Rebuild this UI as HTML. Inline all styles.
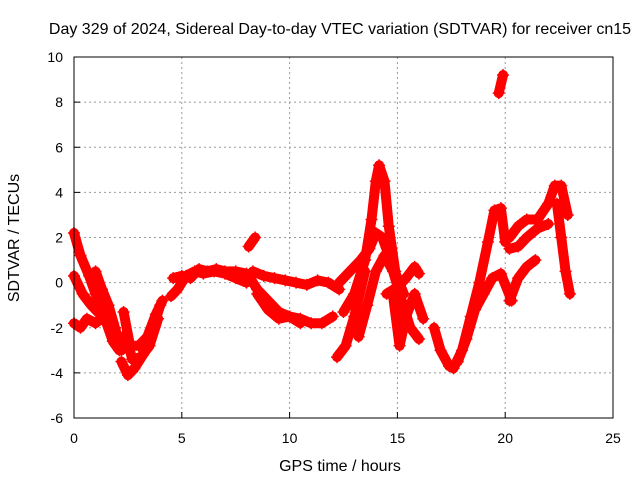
<!DOCTYPE html>
<html><head><meta charset="utf-8"><style>
body{margin:0;background:#fff}
text{font-family:"Liberation Sans",sans-serif;fill:#000}
</style></head><body>
<svg id="chart" width="640" height="480">
<text x="340" y="34" font-size="16" text-anchor="middle">Day 329 of 2024, Sidereal Day-to-day VTEC variation (SDTVAR) for receiver cn15</text>
<text x="340" y="471" font-size="16" text-anchor="middle">GPS time / hours</text>
<text transform="translate(19,238) rotate(-90)" font-size="16" text-anchor="middle">SDTVAR / TECUs</text>
<g id="grid"></g><g id="marks"></g>
<rect x="74" y="57" width="539" height="361" fill="none" stroke="#000"/>
</svg>
<script>
const xTicks=[0,5,10,15,20,25];
const yTicks=[-6,-4,-2,0,2,4,6,8,10];
const tracks=[
 {t:[0,0.3,0.7,1.0,1.4,1.8,2.1],v:[2.2,1.2,0.3,-0.5,-1.5,-2.6,-3.0]},
 {t:[0,0.4,0.8,1.2,1.6,2.0,2.3],v:[0.3,-0.5,-1.0,-1.4,-1.9,-2.4,-2.7]},
 {t:[0,0.3,0.6,1.0,1.4],v:[-1.8,-2.0,-1.6,-1.8,-1.5]},
 {t:[1.0,1.3,1.6,1.9,2.2],v:[0.5,-0.3,-1.0,-2.0,-3.0]},
 {t:[2.2,2.5,2.8,3.2,3.6,4.0],v:[-3.5,-4.1,-3.8,-3.2,-2.2,-1.0]},
 {t:[2.3,2.6,3.0,3.4,3.8,4.1],v:[-1.3,-2.8,-2.8,-2.4,-1.4,-0.8]},
 {t:[2.4,2.7,3.1,3.5,3.9],v:[-2.3,-3.4,-3.3,-2.8,-1.6]},
 {t:[4.5,4.8,5.2,5.6,6.0,6.5,7.0,7.5,8.0],v:[-0.6,-0.3,0.3,0.5,0.4,0.5,0.4,0.2,0.0]},
 {t:[4.6,5.0,5.4,5.8,6.2,6.6,7.0,7.5,8.0],v:[0.2,0.3,0.2,0.6,0.5,0.6,0.5,0.5,0.4]},
 {t:[8.1,8.4],v:[1.6,2.0]},
 {t:[8.1,8.5,9,9.5,10,10.5,11,11.5,12],v:[0.3,-0.3,-0.8,-1.3,-1.5,-1.6,-1.8,-1.8,-1.5]},
 {t:[8.3,8.8,9.3,9.8,10.3,10.8,11.3,11.8,12.3],v:[0.5,0.3,0.2,0.1,0.0,-0.1,0.1,0.0,-0.3]},
 {t:[8.5,9,9.5,10,10.5],v:[-0.5,-1.2,-1.6,-1.5,-1.8]},
 {t:[12.5,13,13.5,13.8,14.0,14.15,14.4,14.6,14.9,15.2],v:[-1.3,-0.5,1.0,2.8,4.5,5.2,4.5,2.5,0.5,-1.5]},
 {t:[12.2,12.6,13.0,13.5],v:[-3.3,-2.8,-1.5,0.5]},
 {t:[12.3,12.8,13.3,13.7,14.0,14.3,14.6,15.0,15.3],v:[0,0.5,1.0,1.5,2.2,2.0,1.2,0.2,-0.5]},
 {t:[13.2,13.6,14.0,14.4,14.8,15.2,15.6,16.0],v:[-2.4,-1.0,0.5,1.2,0.5,-0.8,-2.0,-2.5]},
 {t:[14.5,15,15.4,15.8,16.0],v:[-0.5,-0.2,0.2,0.7,0.4]},
 {t:[14.8,15.1,15.4,15.8,16.2],v:[-0.6,-2.8,-1.5,-0.5,-1.6]},
 {t:[16.7,17.0,17.4],v:[-2.0,-3.0,-3.7]},
 {t:[17.6,18.0,18.4,18.8,19.2,19.5,19.8,20.0],v:[-3.8,-3.0,-1.5,0.0,1.8,3.2,3.3,1.8]},
 {t:[17.8,18.2,18.6,19.0,19.4,19.8,20.3],v:[-3.5,-2.5,-1.2,-0.5,0.2,0.4,-0.8]},
 {t:[20.2,20.6,21,21.4],v:[-0.8,0.2,0.7,1.0]},
 {t:[20.2,20.6,21,21.5,22,22.3,22.6,22.9],v:[2.0,2.5,2.8,2.8,3.5,4.3,4.3,3.0]},
 {t:[20.2,20.6,21,21.5,22],v:[1.5,1.6,2.0,2.4,2.6]},
 {t:[22.4,22.6,22.8,23.0],v:[3.5,2.0,0.5,-0.5]},
 {t:[19.7,19.9],v:[8.4,9.2]}
];
const X=t=>74+t*539/25, Y=v=>57+(10-v)*361/16;
const NS='http://www.w3.org/2000/svg';
const g=document.getElementById('grid'), m=document.getElementById('marks');
function mk(tag,a,p){const e=document.createElementNS(NS,tag);for(const k in a)e.setAttribute(k,a[k]);p.appendChild(e);return e;}
xTicks.forEach(t=>{
 if(t>0&&t<25){const l=mk('line',{x1:X(t),x2:X(t),y1:57,y2:418,stroke:'#999','stroke-dasharray':'2,3'},g);
 
 }
 const tk=mk('line',{x1:X(t),x2:X(t),y1:418,y2:412,stroke:'#000'},g);
 
 
 const tx=mk('text',{x:X(t),y:443,'font-size':14,'text-anchor':'middle'},g);tx.textContent=t;
 
 
});
yTicks.forEach(v=>{
 if(v>-6&&v<10){const l=mk('line',{x1:74,x2:613,y1:Y(v),y2:Y(v),stroke:'#999','stroke-dasharray':'2,3'},g);
 
 }
 const tk=mk('line',{x1:74,x2:80,y1:Y(v),y2:Y(v),stroke:'#000'},g);
 
 
 const tx=mk('text',{x:63,y:Y(v)+5,'font-size':14,'text-anchor':'end'},g);tx.textContent=v;
 
 
});
tracks.forEach(s=>{
 const pts=s.t.map((t,i)=>X(t)+','+Y(s.v[i])).join(' ');
 const pl=mk('polyline',{points:pts,fill:'none',stroke:'#f00','stroke-width':10,'stroke-linejoin':'round','stroke-linecap':'round'},m);
 
 
 s.t.forEach((t,i)=>{
  const p=mk('path',{d:`M${X(t)-6},${Y(s.v[i])}h12M${X(t)},${Y(s.v[i])-6}v12`,stroke:'#f00','stroke-width':1.5},m);
  
  
 });
});
</script>
</body></html>
